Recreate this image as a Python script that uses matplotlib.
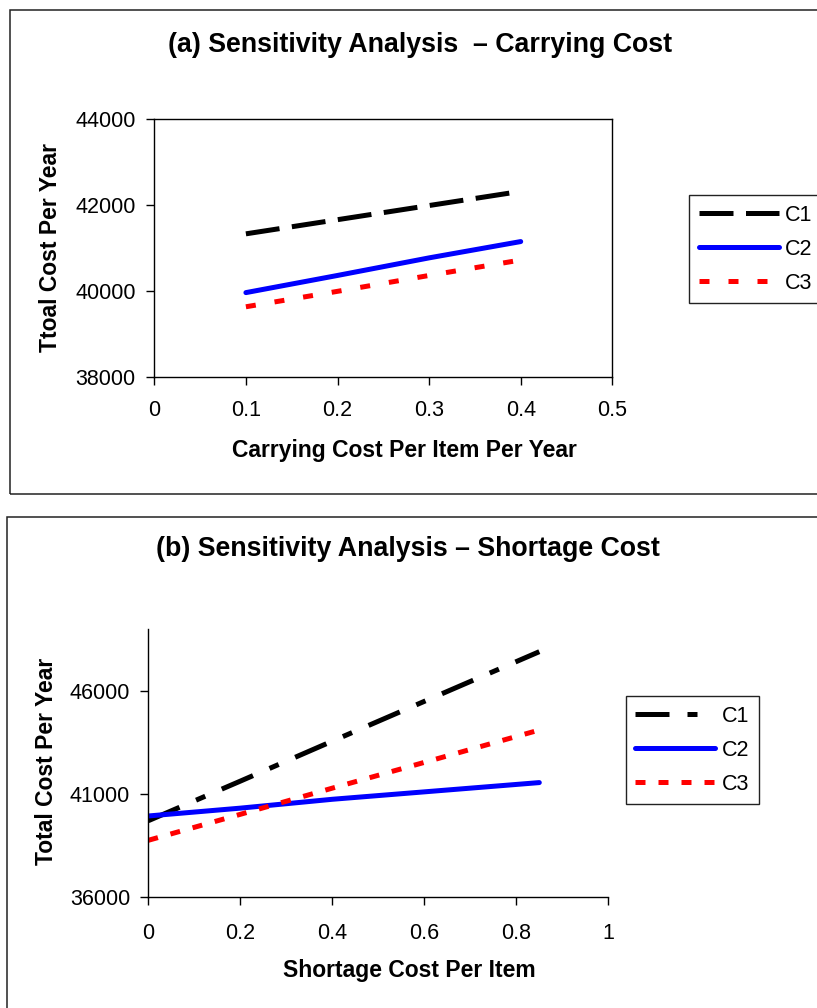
import matplotlib
matplotlib.use("Agg")
import matplotlib.pyplot as plt
from matplotlib.patches import Rectangle

plt.rcParams["font.family"] = ["Liberation Sans", "DejaVu Sans"]

# (a) carrying cost sensitivity
carry_x = [0.1, 0.2, 0.3, 0.4]
carry_c1 = [41330, 41660, 41990, 42320]
carry_c2 = [39960, 40360, 40770, 41150]
carry_c3 = [39630, 39990, 40360, 40720]

# (b) shortage cost sensitivity
short_x = [0.0, 0.2, 0.4, 0.6, 0.85]
short_c1 = [39700, 41620, 43560, 45490, 47900]
short_c2 = [39930, 40310, 40740, 41100, 41550]
short_c3 = [38750, 40010, 41280, 42530, 44100]

labels = ["C1", "C2", "C3"]

W, H = 817, 1008
fig = plt.figure(figsize=(W / 100, H / 100), dpi=100)


def px_axes(left, top, right, bottom):
    return fig.add_axes([left / W, 1 - bottom / H, (right - left) / W, (bottom - top) / H])


# outer chart boxes
fig.patches.append(Rectangle((9.5 / W, 1 - 494 / H), 1.0, (494 - 10) / H, transform=fig.transFigure,
                             fill=False, edgecolor="#222222", linewidth=1.1))
fig.patches.append(Rectangle((7 / W, -0.05), 1.0, 0.05 + 1 - 516.5 / H, transform=fig.transFigure,
                             fill=False, edgecolor="#222222", linewidth=1.1))

tick_kw = dict(labelsize=15.5, length=6, width=1.0, direction="out", color="black")
lab_kw = dict(fontsize=16.5, fontweight="bold")
leg_kw = dict(fontsize=15.5, frameon=True, fancybox=False, edgecolor="#222222", framealpha=1,
              handlelength=3.7, handletextpad=0.3, labelspacing=0.6, borderpad=0.45,
              borderaxespad=0, bbox_transform=fig.transFigure, loc="upper left")

# ---- panel (a)
ax = px_axes(154.3, 119.3, 612.3, 376.7)
ax.plot(carry_x, carry_c1, color="black", lw=3.6, dashes=(6.8, 2.5), dash_capstyle="butt")
ax.plot(carry_x, carry_c2, color="#0000ff", lw=3.6, solid_capstyle="round")
ax.plot(carry_x, carry_c3, color="#ff0000", lw=3.6, dashes=(2.0, 3.8), dash_capstyle="butt")
ax.set_xlim(0, 0.5)
ax.set_ylim(38000, 44000)
ax.set_xticks([0, 0.1, 0.2, 0.3, 0.4, 0.5], ["0", "0.1", "0.2", "0.3", "0.4", "0.5"])
ax.set_yticks([38000, 40000, 42000, 44000], ["38000", "40000", "42000", "44000"])
ax.tick_params(axis="x", pad=11, **tick_kw)
ax.tick_params(axis="y", pad=7.5, **tick_kw)
for s in ax.spines.values():
    s.set_linewidth(1.0)
ax.set_xlabel("Carrying Cost Per Item Per Year", va="center", **lab_kw)
ax.xaxis.set_label_coords((404 - 154.3) / 458, (376.7 - 451) / 257.4)
ax.set_ylabel("Ttoal Cost Per Year", va="center", **lab_kw)
ax.yaxis.set_label_coords((50 - 154.3) / 458, (376.7 - 248) / 257.4)
fig.text(420 / W, 1 - 45 / H, "(a) Sensitivity Analysis  \u2013 Carrying Cost",
         ha="center", va="center", fontsize=19.3, fontweight="bold")
ax.legend(labels, bbox_to_anchor=(689.3 / W, 1 - 195 / H), **leg_kw)

# ---- panel (b)
bx = px_axes(148.3, 629, 608.3, 897)
bx.plot(short_x, short_c1, color="black", lw=3.6, dashes=(6.8, 3.6, 2.0, 3.6), dash_capstyle="butt")
bx.plot(short_x, short_c2, color="#0000ff", lw=3.6, solid_capstyle="round")
bx.plot(short_x, short_c3, color="#ff0000", lw=3.6, dashes=(2.0, 2.6), dash_capstyle="butt")
bx.set_xlim(0, 1)
bx.set_ylim(36000, 49000)
bx.set_xticks([0, 0.2, 0.4, 0.6, 0.8, 1], ["0", "0.2", "0.4", "0.6", "0.8", "1"])
bx.set_yticks([36000, 41000, 46000], ["36000", "41000", "46000"])
bx.tick_params(axis="x", pad=12.5, **tick_kw)
bx.tick_params(axis="y", pad=7, **tick_kw)
bx.spines["top"].set_visible(False)
bx.spines["right"].set_visible(False)
for s in bx.spines.values():
    s.set_linewidth(1.0)
bx.set_xlabel("Shortage Cost Per Item", va="center", **lab_kw)
bx.xaxis.set_label_coords((409 - 148.3) / 460, (897 - 970) / 268)
bx.set_ylabel("Total Cost Per Year", va="center", **lab_kw)
bx.yaxis.set_label_coords((46 - 148.3) / 460, (897 - 761.5) / 268)
fig.text(408 / W, 1 - 549 / H, "(b) Sensitivity Analysis \u2013 Shortage Cost",
         ha="center", va="center", fontsize=19.3, fontweight="bold")
bx.legend(labels, bbox_to_anchor=(625.7 / W, 1 - 696 / H), **leg_kw)

fig.savefig("out.png", dpi=100)
